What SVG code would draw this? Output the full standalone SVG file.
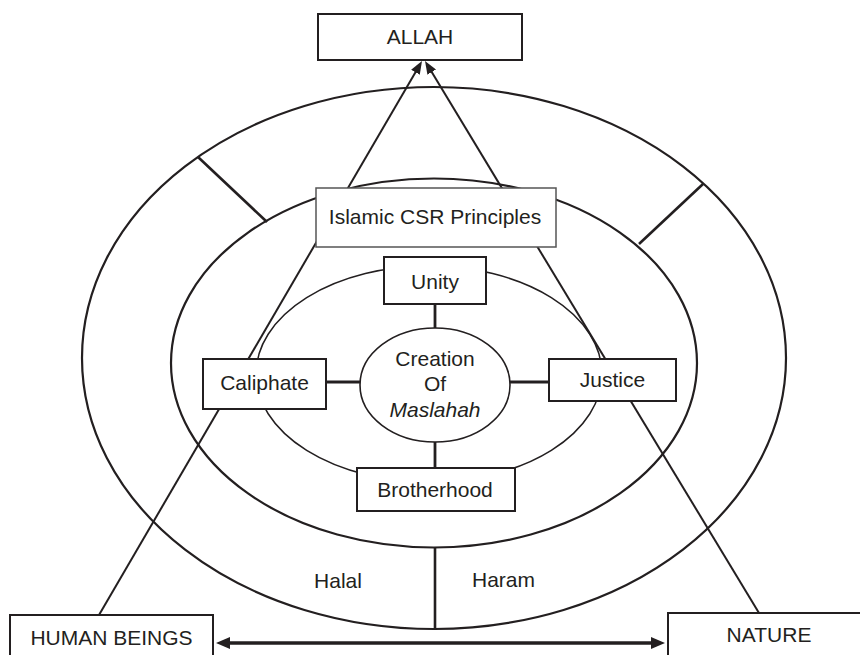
<svg xmlns="http://www.w3.org/2000/svg" width="860" height="655" viewBox="0 0 860 655">
<style>
  .ring{fill:none;stroke:#231f20;stroke-width:2.2}
  .thin{fill:none;stroke:#231f20;stroke-width:1.5}
  .box{fill:#ffffff;stroke:#231f20;stroke-width:2}
  .lbox{fill:#ffffff;stroke:#555555;stroke-width:1.5}
  .link{stroke:#231f20;stroke-width:2;fill:none}
  .stub{stroke:#231f20;stroke-width:2.8;fill:none}
  .div{stroke:#231f20;stroke-width:2.6;fill:none}
  text{font-family:"Liberation Sans",Arial,sans-serif;font-size:21px;fill:#231f20;text-anchor:middle}
</style>
<defs>
  <marker id="arrowS" viewBox="0 0 13 10" refX="5" refY="5" markerWidth="13" markerHeight="10" markerUnits="userSpaceOnUse" orient="auto">
    <path d="M0,0 L13,5 L0,10 z" fill="#231f20"/>
  </marker>
  <marker id="arrowL" viewBox="0 0 14 12" refX="4" refY="6" markerWidth="14" markerHeight="12" markerUnits="userSpaceOnUse" orient="auto-start-reverse">
    <path d="M0,0 L14,6 L0,12 z" fill="#231f20"/>
  </marker>
</defs>
<rect width="860" height="655" fill="#ffffff"/>

<g id="rings">
  <ellipse class="ring" cx="434" cy="358" rx="352" ry="271"/>
  <ellipse class="ring" cx="434" cy="363" rx="263" ry="184.5"/>
  <ellipse class="thin" cx="429" cy="374" rx="173" ry="108"/>
  <line class="div" x1="198" y1="157" x2="267" y2="222"/>
  <line class="div" x1="639" y1="244" x2="703" y2="184"/>
  <line class="div" x1="435" y1="547" x2="435" y2="629"/>
</g>

<g id="connectors">
  <line class="link" x1="99" y1="615" x2="417.97" y2="67.91" marker-end="url(#arrowS)"/>
  <line class="link" x1="759" y1="613" x2="429.14" y2="67.84" marker-end="url(#arrowS)"/>
  <line class="stub" x1="435" y1="304" x2="435" y2="328"/>
  <line class="stub" x1="326" y1="382" x2="360" y2="382"/>
  <line class="stub" x1="510" y1="382" x2="549" y2="382"/>
  <line class="stub" x1="435" y1="442" x2="435" y2="468"/>
  <line stroke="#231f20" stroke-width="3.5" x1="226" y1="643" x2="655" y2="643" marker-start="url(#arrowL)" marker-end="url(#arrowL)"/>
</g>

<g id="allah">
  <rect class="box" x="318" y="14" width="204" height="46"/>
  <text x="420" y="44">ALLAH</text>
</g>
<g id="islamic-csr">
  <rect class="lbox" x="316" y="188" width="240" height="59"/>
  <text x="435" y="224">Islamic CSR Principles</text>
</g>
<g id="unity">
  <rect class="box" x="384" y="257" width="102" height="47"/>
  <text x="435" y="289">Unity</text>
</g>
<g id="creation">
  <ellipse fill="#ffffff" stroke="#231f20" stroke-width="1.6" cx="435" cy="385" rx="75" ry="57"/>
  <text x="435" y="366">Creation</text>
  <text x="435" y="391">Of</text>
  <text x="435" y="417" font-style="italic">Maslahah</text>
</g>
<g id="caliphate">
  <rect class="box" x="203" y="359" width="123" height="50"/>
  <text x="264.5" y="390">Caliphate</text>
</g>
<g id="justice">
  <rect class="box" x="549" y="359" width="127" height="42"/>
  <text x="612.5" y="387">Justice</text>
</g>
<g id="brotherhood">
  <rect class="box" x="357" y="468" width="158" height="43"/>
  <text x="435" y="497">Brotherhood</text>
</g>
<g id="halal">
  <text x="338" y="588">Halal</text>
</g>
<g id="haram">
  <text x="503.5" y="587">Haram</text>
</g>
<g id="human-beings">
  <rect class="box" x="10" y="615" width="203" height="50"/>
  <text x="111.5" y="645">HUMAN BEINGS</text>
</g>
<g id="nature">
  <rect class="box" x="668" y="613" width="200" height="50"/>
  <text x="769" y="642">NATURE</text>
</g>
</svg>
